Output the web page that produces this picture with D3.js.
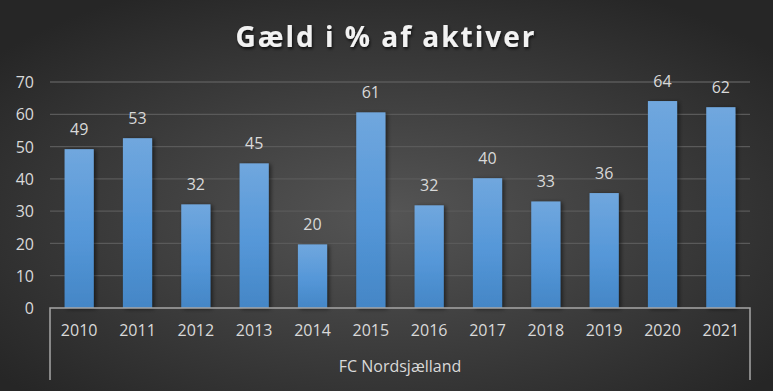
<!DOCTYPE html>
<html><head><meta charset="utf-8">
<script src="https://cdn.jsdelivr.net/npm/d3@7"></script>
<style>
html,body{margin:0;padding:0;background:#333;}
svg{display:block;}
</style></head>
<body>
<svg id="chart" width="773" height="391"></svg>
<script>
const years = ["2010","2011","2012","2013","2014","2015","2016","2017","2018","2019","2020","2021"];
const values = [49.2, 52.6, 32.1, 44.8, 19.7, 60.6, 31.8, 40.2, 33.0, 35.6, 64.1, 62.2];
const yTicks = [0,10,20,30,40,50,60,70];
const title = "Gæld i % af aktiver";
const groupLabel = "FC Nordsjælland";

const W = 773, H = 391;
const m = {left:50, right:23, top:82, bottom:83};
const svg = d3.select("#chart");
const defs = svg.append("defs");

const bg = defs.append("radialGradient").attr("id","bg")
  .attr("cx","50%").attr("cy","55%").attr("r","65%");
bg.append("stop").attr("offset","0%").attr("stop-color","#555555");
bg.append("stop").attr("offset","100%").attr("stop-color","#262626");

const bar = defs.append("linearGradient").attr("id","bar").attr("x1",0).attr("y1",0).attr("x2",0).attr("y2",1);
bar.append("stop").attr("offset","0%").attr("stop-color","#70a7de");
bar.append("stop").attr("offset","55%").attr("stop-color","#5597d8");
bar.append("stop").attr("offset","100%").attr("stop-color","#4486c6");

const sh = defs.append("filter").attr("id","sh").attr("x","-20%").attr("y","-20%").attr("width","160%").attr("height","140%");
sh.append("feDropShadow").attr("dx",2).attr("dy",1).attr("stdDeviation",2).attr("flood-color","#000").attr("flood-opacity",0.55);

const tsh = defs.append("filter").attr("id","tsh");
tsh.append("feDropShadow").attr("dx",1).attr("dy",2).attr("stdDeviation",1.5).attr("flood-color","#000").attr("flood-opacity",0.7);

svg.append("rect").attr("width",W).attr("height",H).attr("fill","url(#bg)");

const x = d3.scaleBand().domain(years).range([m.left, W-m.right]).paddingInner(0.5).paddingOuter(0.25);
const y = d3.scaleLinear().domain([0,70]).range([H-m.bottom, m.top]);

const font = "'Open Sans', 'Noto Sans', sans-serif";

// gridlines
svg.append("g").selectAll("line").data(yTicks.filter(d=>d>0)).join("line")
  .attr("x1", m.left).attr("x2", W-m.right)
  .attr("y1", d=>y(d)).attr("y2", d=>y(d))
  .attr("stroke","#5a5a5a").attr("stroke-width",1.3);

// y axis labels
const yAxis = d3.axisLeft(y).tickValues(yTicks).tickSize(0).tickPadding(0);
const yg = svg.append("g").attr("transform",`translate(${m.left-16},0)`).call(yAxis);
yg.select(".domain").remove();
yg.selectAll("text").attr("fill","#d9d9d9").style("font-family",font).style("font-size","16px").attr("dy","0.35em");

// bars
svg.append("g").selectAll("rect").data(values).join("rect")
  .attr("x",(d,i)=>x(years[i])).attr("width",x.bandwidth())
  .attr("y",d=>y(d)).attr("height",d=>y(0)-y(d))
  .attr("fill","url(#bar)").attr("filter","url(#sh)");

// data labels
svg.append("g").selectAll("text").data(values).join("text")
  .attr("x",(d,i)=>x(years[i])+x.bandwidth()/2)
  .attr("y",d=>y(d)-14)
  .attr("text-anchor","middle").attr("fill","#d9d9d9")
  .style("font-family",font).style("font-size","16px")
  .text(d=>d3.format(".0f")(d));

// x axis
const y0 = y(0);
const xAxis = d3.axisBottom(x).tickSize(0).tickPadding(17);
const xg = svg.append("g").attr("transform",`translate(0,${y0})`).call(xAxis);
xg.select(".domain").remove();
xg.selectAll("text").attr("fill","#d9d9d9").style("font-family",font).style("font-size","16px");

// axis line and bracket
svg.append("path")
  .attr("d",`M${m.left},${y0+72} V${y0} H${W-m.right} V${y0+72}`)
  .attr("fill","none").attr("stroke","#a6a6a6").attr("stroke-width",1.5);

// group label
svg.append("text").attr("x",(m.left+W-m.right)/2).attr("y",372)
  .attr("text-anchor","middle").attr("fill","#d9d9d9")
  .style("font-family",font).style("font-size","16px").text(groupLabel);

// title
svg.append("text").attr("x",386).attr("y",47).attr("text-anchor","middle")
  .attr("fill","#f2f2f2").attr("filter","url(#tsh)")
  .style("font-family",font).style("font-size","28px").style("font-weight","bold")
  .style("letter-spacing","2px").text(title);
</script>
</body></html>
